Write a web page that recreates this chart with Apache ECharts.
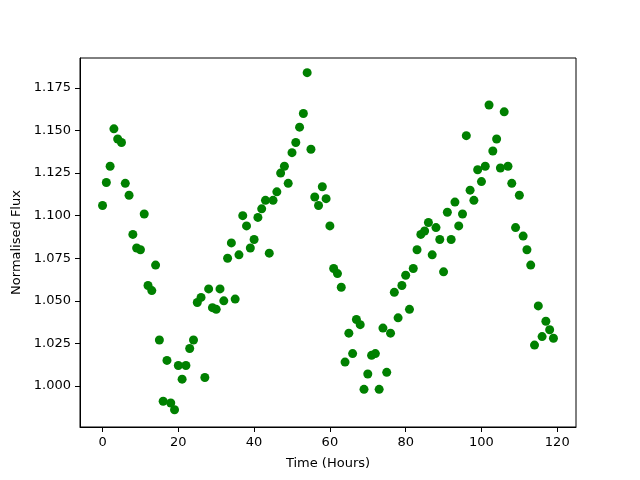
<!DOCTYPE html>
<html>
<head>
<meta charset="utf-8">
<script src="https://cdn.jsdelivr.net/npm/echarts@6/dist/echarts.min.js"></script>
<style>
  html, body { margin: 0; padding: 0; background: #fff; }
  #chart { width: 640px; height: 480px; }
</style>
</head>
<body>
<div id="chart"></div>
<script>
// time in hours
const hours = [
  0, 1, 2, 3, 4, 5, 6, 7, 8, 9, 10, 11, 12, 13, 14, 15, 16, 17, 18, 19,
  20, 21, 22, 23, 24, 25, 26, 27, 28, 29, 30, 31, 32, 33, 34, 35, 36, 37, 38, 39,
  40, 41, 42, 43, 44, 45, 46, 47, 48, 49, 50, 51, 52, 53, 54, 55, 56, 57, 58, 59,
  60, 61, 62, 63, 64, 65, 66, 67, 68, 69, 70, 71, 72, 73, 74, 75, 76, 77, 78, 79,
  80, 81, 82, 83, 84, 85, 86, 87, 88, 89, 90, 91, 92, 93, 94, 95, 96, 97, 98, 99,
  100, 101, 102, 103, 104, 105, 106, 107, 108, 109, 110, 111, 112, 113, 114, 115, 116, 117, 118, 119
];
// normalised flux
const flux = [
  1.106, 1.1195, 1.129, 1.151, 1.145, 1.143, 1.119, 1.112, 1.089, 1.081,
  1.080, 1.101, 1.059, 1.056, 1.071, 1.027, 0.991, 1.015, 0.990, 0.986,
  1.012, 1.004, 1.012, 1.022, 1.027, 1.049, 1.052, 1.005, 1.057, 1.046,
  1.045, 1.057, 1.050, 1.075, 1.084, 1.051, 1.077, 1.100, 1.094, 1.081,
  1.086, 1.099, 1.104, 1.109, 1.078, 1.109, 1.114, 1.125, 1.129, 1.119,
  1.137, 1.143, 1.152, 1.160, 1.184, 1.139, 1.111, 1.106, 1.117, 1.110,
  1.094, 1.069, 1.066, 1.058, 1.014, 1.031, 1.019, 1.039, 1.036, 0.998,
  1.007, 1.018, 1.019, 0.998, 1.034, 1.008, 1.031, 1.055, 1.040, 1.059,
  1.065, 1.045, 1.069, 1.080, 1.089, 1.091, 1.096, 1.077, 1.093, 1.086,
  1.067, 1.102, 1.086, 1.108, 1.094, 1.101, 1.147, 1.115, 1.109, 1.127,
  1.120, 1.129, 1.165, 1.138, 1.145, 1.128, 1.161, 1.129, 1.119, 1.093,
  1.112, 1.088, 1.080, 1.071, 1.024, 1.047, 1.029, 1.038, 1.033, 1.028
];
const xTicks = [0, 20, 40, 60, 80, 100, 120];
const yTicks = [1.000, 1.025, 1.050, 1.075, 1.100, 1.125, 1.150, 1.175];

const font = 'DejaVu Sans';
const chart = echarts.init(document.getElementById('chart'));

const points = hours.map((h, i) => [h, flux[i]]);

chart.setOption({
  animation: false,
  backgroundColor: '#fff',
  grid: {
    left: 80, right: 64, top: 58, bottom: 53,
    show: true, borderColor: '#000', borderWidth: 1
  },
  xAxis: {
    type: 'value',
    min: -5.95,
    max: 124.95,
    name: 'Time (Hours)',
    nameLocation: 'middle',
    nameGap: 30,
    nameTextStyle: { fontFamily: font, fontSize: 13, color: '#000' },
    axisLine: { onZero: false, lineStyle: { color: '#000', width: 1 } },
    axisTick: { customValues: xTicks, length: 5, lineStyle: { color: '#000' } },
    axisLabel: {
      customValues: xTicks, margin: 9,
      fontFamily: font, fontSize: 13, color: '#000'
    },
    splitLine: { show: false }
  },
  yAxis: {
    type: 'value',
    min: 0.9759,
    max: 1.1926,
    name: 'Normalised Flux',
    nameLocation: 'middle',
    nameGap: 55,
    nameTextStyle: { fontFamily: font, fontSize: 13, color: '#000' },
    axisLine: { onZero: false, lineStyle: { color: '#000', width: 1 } },
    axisTick: { customValues: yTicks, length: 5, lineStyle: { color: '#000' } },
    axisLabel: {
      customValues: yTicks, margin: 9,
      fontFamily: font, fontSize: 13, color: '#000',
      formatter: v => v.toFixed(3)
    },
    splitLine: { show: false }
  },
  series: [{
    type: 'scatter',
    data: points,
    symbol: 'circle',
    symbolSize: 9,
    itemStyle: { color: '#008000', opacity: 1 }
  }]
});
</script>
</body>
</html>
